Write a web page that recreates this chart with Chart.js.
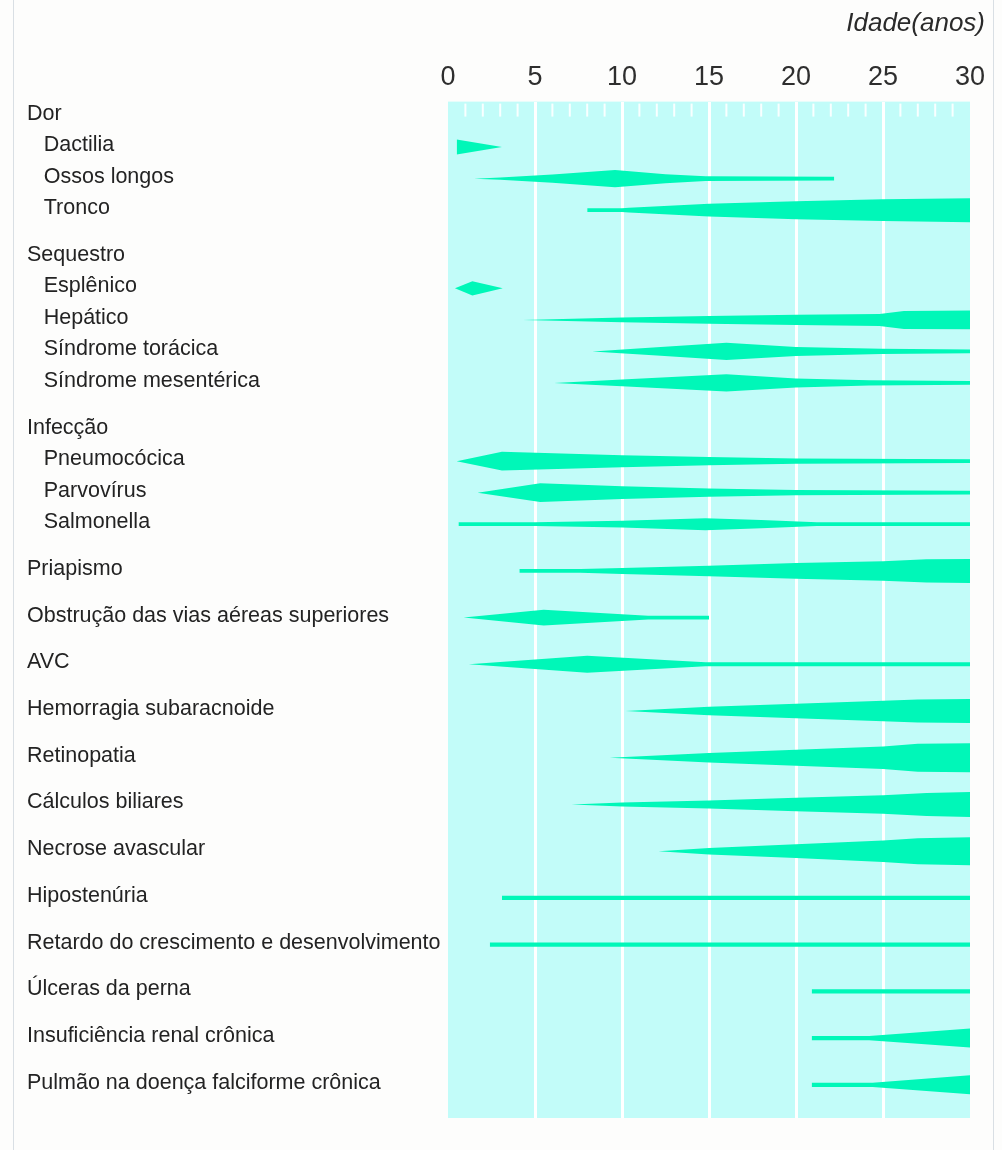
<!DOCTYPE html>
<html>
<head>
<meta charset="utf-8">
<script src="https://cdn.jsdelivr.net/npm/chart.js@4.4.1/dist/chart.umd.min.js"></script>
<style>
  html, body { margin: 0; padding: 0; background: #fdfdfc; }
  #quadro { position: relative; width: 1002px; height: 1150px; }
  #quadro:before, #quadro:after { content: ''; position: absolute; top: 0; bottom: 0; width: 1px; background: #d9dfe4; }
  #quadro:before { left: 13px; }
  #quadro:after { left: 993px; }
  canvas { position: absolute; left: 0; top: 0; }
</style>
</head>
<body>
<div id="quadro"><canvas id="graficoFalciforme" width="1002" height="1150"></canvas></div>
<script>
// rotulos das linhas (0 = grupo, 1 = subitem, 2 = item)
const rotulos = [
    'Dor', 'Dactilia', 'Ossos longos', 'Tronco',
    'Sequestro', 'Esplênico', 'Hepático', 'Síndrome torácica', 'Síndrome mesentérica',
    'Infecção', 'Pneumocócica', 'Parvovírus', 'Salmonella',
    'Priapismo', 'Obstrução das vias aéreas superiores', 'AVC', 'Hemorragia subaracnoide',
    'Retinopatia', 'Cálculos biliares', 'Necrose avascular', 'Hipostenúria',
    'Retardo do crescimento e desenvolvimento', 'Úlceras da perna',
    'Insuficiência renal crônica', 'Pulmão na doença falciforme crônica'
];
const niveis = [0, 1, 1, 1, 0, 1, 1, 1, 1, 0, 1, 1, 1, 2, 2, 2, 2, 2, 2, 2, 2, 2, 2, 2, 2];

// perfis: [idade (anos), frequência relativa 0-10]
const dactilia = [[0.5, 5], [3.1, 0]];
const ossosLongos = [[1.5, 0], [3, 0.8], [6, 2.7], [9.6, 5.7], [12.5, 3], [14.8, 1.6], [22.2, 1.3]];
const tronco = [[8, 1.3], [10, 1.3], [10.4, 1.6], [15, 4.3], [20, 6], [25, 7.3], [30, 8]];
const esplenico = [[0.4, 0], [1.4, 4.7], [3.15, 0]];
const hepatico = [[4.3, 0], [10, 1.6], [15, 2.6], [20, 3.4], [24.8, 4], [26.2, 6], [30, 6.3]];
const sindToracica = [[8.3, 0], [12, 2.7], [16, 5.7], [20, 3], [24.9, 1.7], [30, 1.3]];
const sindMesenterica = [[6.1, 0], [10, 2.3], [16, 5.7], [20, 3], [24.2, 1.7], [30, 1.3]];
const pneumococica = [[0.5, 0], [3.1, 6.3], [10, 4], [15, 2.7], [20, 1.7], [30, 1.3]];
const parvovirus = [[1.7, 0], [5.3, 6.3], [10, 4.3], [15, 2.7], [20, 1.7], [30, 1.3]];
const salmonella = [[0.6, 1.3], [5, 1.3], [10, 2.3], [14.8, 4], [18, 2.7], [21.2, 1.3], [30, 1.3]];
const priapismo = [[4.1, 1.3], [7.6, 1.3], [10, 2], [15, 3.5], [20, 5.2], [25, 6.5], [27.5, 7.7], [30, 8]];
const obstrucao = [[0.9, 0], [5.5, 5.3], [11.5, 1.3], [15, 1.3]];
const avc = [[1.2, 0], [8, 5.7], [14.8, 1.3], [30, 1.3]];
const hemorragia = [[10.2, 0], [15, 2.8], [20, 4.8], [25, 6.8], [27, 7.7], [30, 8]];
const retinopatia = [[9.3, 0], [15, 3.2], [20, 5.3], [25, 7.5], [27, 9.3], [30, 9.7]];
const calculos = [[7.1, 0], [10, 1.3], [15, 2.6], [20, 4.5], [25, 6.2], [27.5, 7.7], [30, 8.3]];
const necrose = [[12.1, 0], [15, 2.2], [20, 4.6], [25, 7.2], [27, 8.7], [30, 9.3]];
const hipostenuria = [[3.1, 1.4], [30, 1.4]];
const retardo = [[2.4, 1.4], [30, 1.4]];
const ulceras = [[20.9, 1.4], [30, 1.4]];
const insufRenal = [[20.9, 1.4], [24.2, 1.4], [30, 6.3]];
const pulmao = [[20.9, 1.4], [24.4, 1.4], [30, 6.3]];

const perfis = [
    null, dactilia, ossosLongos, tronco,
    null, esplenico, hepatico, sindToracica, sindMesenterica,
    null, pneumococica, parvovirus, salmonella,
    priapismo, obstrucao, avc, hemorragia, retinopatia, calculos, necrose,
    hipostenuria, retardo, ulceras, insufRenal, pulmao
];

const idadeTicks = [0, 5, 10, 15, 20, 25, 30];

// posicao vertical de cada linha (subitens mais juntos)
const posicoes = [];
let yAtual = 114;
rotulos.forEach((r, i) => {
    if (i > 0) yAtual += niveis[i] === 1 ? 31.5 : 46.7;
    posicoes.push(yAtual);
});

const VERDE = '#00f7b8';
const ESCALA = 1.5;
const DESLOC = 2;

const datasets = [];
perfis.forEach((perfil, i) => {
    if (!perfil) return;
    const c = posicoes[i] + DESLOC;
    datasets.push({
        data: perfil.map(p => ({ x: p[0], y: c - p[1] * ESCALA })),
        fill: '+1',
        backgroundColor: VERDE,
        borderWidth: 0,
        pointRadius: 0,
        tension: 0
    });
    datasets.push({
        data: perfil.map(p => ({ x: p[0], y: c + p[1] * ESCALA })),
        fill: false,
        borderWidth: 0,
        pointRadius: 0,
        tension: 0
    });
});

const fundoCiano = {
    id: 'fundoCiano',
    beforeDraw(chart) {
        const { ctx, chartArea: a } = chart;
        ctx.save();
        ctx.fillStyle = '#c2fcf9';
        ctx.fillRect(a.left, a.top, a.right - a.left, a.bottom - a.top);
        ctx.restore();
    },
    beforeDatasetsDraw(chart) {
        const { ctx, chartArea: a } = chart;
        const x = chart.scales.x;
        ctx.save();
        ctx.strokeStyle = 'rgba(255,255,255,0.9)';
        ctx.lineWidth = 2;
        for (let v = 1; v < 30; v++) {
            if (v % 5 === 0) continue;
            const px = x.getPixelForValue(v);
            ctx.beginPath();
            ctx.moveTo(px, a.top + 2);
            ctx.lineTo(px, a.top + 15);
            ctx.stroke();
        }
        ctx.restore();
    }
};

const fonte = '"Liberation Sans", Arial, sans-serif';

new Chart(document.getElementById('graficoFalciforme').getContext('2d'), {
    type: 'line',
    data: { datasets: datasets },
    plugins: [fundoCiano],
    options: {
        responsive: false,
        animation: false,
        layout: { padding: { top: 8, left: 27, right: 17, bottom: 32 } },
        plugins: {
            legend: { display: false },
            tooltip: { enabled: false },
            title: {
                display: true,
                text: 'Idade(anos)',
                align: 'end',
                color: '#2a2a2a',
                font: { family: fonte, size: 26, style: 'italic', weight: 'normal' },
                padding: { top: 0, bottom: 14 }
            }
        },
        scales: {
            x: {
                type: 'linear',
                position: 'top',
                min: 0,
                max: 30,
                afterBuildTicks: s => { s.ticks = idadeTicks.map(v => ({ value: v })); },
                ticks: {
                    color: '#2e2e2e',
                    padding: 8,
                    font: { family: fonte, size: 27 }
                },
                grid: {
                    drawTicks: false,
                    lineWidth: 3,
                    color: c => (c.tick && c.tick.value > 0 && c.tick.value < 30) ? '#ffffff' : 'rgba(0,0,0,0)'
                },
                border: { display: false }
            },
            y: {
                type: 'linear',
                position: 'left',
                reverse: true,
                min: 102,
                max: 1118,
                afterBuildTicks: s => { s.ticks = posicoes.map(v => ({ value: v })); },
                afterFit: s => { s.width = 421; },
                ticks: {
                    autoSkip: false,
                    crossAlign: 'far',
                    color: '#232323',
                    font: { family: fonte, size: 21.5 },
                    callback: (v, i) => (niveis[i] === 1 ? '\u2002 ' : '') + rotulos[i]
                },
                grid: { display: false, drawTicks: false },
                border: { display: false }
            },
            yR: {
                type: 'linear',
                position: 'right',
                ticks: { display: false },
                grid: { display: false, drawTicks: false },
                border: { display: false },
                afterFit: s => { s.width = 15; }
            }
        }
    }
});
</script>
</body>
</html>
